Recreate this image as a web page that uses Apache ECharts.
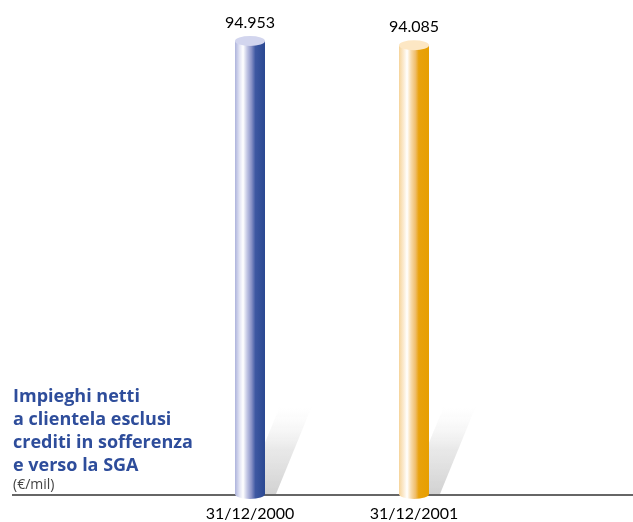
<!DOCTYPE html>
<html>
<head>
<meta charset="utf-8">
<script src="https://cdn.jsdelivr.net/npm/echarts@6/dist/echarts.min.js"></script>
<style>
  html, body { margin: 0; padding: 0; background: #fff; }
  #main { width: 633px; height: 522px; }
</style>
</head>
<body>
<div id="main"></div>
<script>
// dati
var categories = ['31/12/2000', '31/12/2001'];
var values = [94953, 94085];
var titleLines = ['Impieghi netti', 'a clientela esclusi', 'crediti in sofferenza', 'e verso la SGA'];
var unitLabel = '(€/mil)';

// colori dei cilindri (blu, arancio)
var bodyStops = [
  [[0, '#adb3dc'], [0.16, '#e4e6f5'], [0.27, '#ffffff'], [0.4, '#c3c7e5'], [0.55, '#8891c6'], [0.68, '#3e58a2'], [1, '#2a4891']],
  [[0, '#f6d49a'], [0.16, '#fcecd3'], [0.27, '#ffffff'], [0.4, '#f8dbab'], [0.55, '#efbd6a'], [0.66, '#e9a20c'], [1, '#e79f00']]
];
var capColors = ['#d2d5ee', '#fde7c4'];

function grad(stops) {
  return new echarts.graphic.LinearGradient(0, 0, 1, 0, stops.map(function (s) {
    return { offset: s[0], color: s[1] };
  }));
}

// formato italiano 94.953
function fmt(v) {
  return String(v).replace(/\B(?=(\d{3})+(?!\d))/g, '.');
}

var chart = echarts.init(document.getElementById('main'));

var barW = 30;

var option = {
  animation: false,
  title: {
    text: titleLines.join('\n'),
    subtext: unitLabel,
    left: 8,
    top: 380,
    itemGap: 0,
    textStyle: {
      fontFamily: 'Open Sans',
      fontWeight: 'bold',
      fontSize: 18,
      lineHeight: 23,
      color: '#2e4d9b'
    },
    subtextStyle: {
      fontFamily: 'Open Sans',
      fontSize: 14,
      lineHeight: 16,
      color: '#444'
    }
  },
  grid: { left: 168, right: 137, top: 17, bottom: 27 },
  xAxis: {
    type: 'category',
    data: categories,
    axisLine: { show: false },
    axisTick: { show: false },
    axisLabel: {
      margin: 12,
      fontFamily: 'Lato',
      fontSize: 16,
      color: '#000'
    }
  },
  yAxis: {
    type: 'value',
    min: 0,
    max: 100000,
    show: false,
    splitLine: { show: false }
  },
  graphic: [{
    type: 'line',
    z: 0,
    shape: { x1: 12, y1: 495, x2: 633, y2: 495 },
    style: { stroke: '#333', lineWidth: 1.5 }
  }],
  series: [
    // ombra diagonale
    {
      type: 'custom',
      z: 1,
      silent: true,
      data: categories.map(function (c, i) { return [i, values[i]]; }),
      renderItem: function (params, api) {
        var p = api.coord([api.value(0), 0]);
        var x = p[0], y = p[1];
        return {
          type: 'polygon',
          shape: { points: [[x - 6, y], [x + 26, y], [x + 62, y - 88], [x + 30, y - 88]] },
          style: {
            fill: new echarts.graphic.LinearGradient(0, 1, 0, 0, [
              { offset: 0, color: 'rgba(190,190,190,0.7)' },
              { offset: 0.5, color: 'rgba(210,210,210,0.5)' },
              { offset: 1, color: 'rgba(240,240,240,0)' }
            ])
          }
        };
      }
    },
    // corpo
    {
      type: 'bar',
      z: 2,
      barWidth: barW,
      data: values.map(function (v, i) {
        return { value: v, itemStyle: { color: grad(bodyStops[i]) } };
      }),
      label: {
        show: true,
        position: 'top',
        distance: 10,
        fontFamily: 'Lato',
        fontSize: 16,
        color: '#000',
        formatter: function (p) { return fmt(p.value); }
      }
    },
    // base
    {
      type: 'pictorialBar',
      z: 3,
      symbol: 'circle',
      symbolSize: [barW, 10],
      symbolOffset: [0, '50%'],
      data: values.map(function (v, i) {
        return { value: v, itemStyle: { color: grad(bodyStops[i]) } };
      })
    },
    // tappo
    {
      type: 'pictorialBar',
      z: 4,
      symbol: 'circle',
      symbolSize: [barW, 10],
      symbolPosition: 'end',
      symbolOffset: [0, '-50%'],
      data: values.map(function (v, i) {
        return { value: v, itemStyle: { color: capColors[i] } };
      })
    }
  ]
};

chart.setOption(option);
</script>
</body>
</html>
